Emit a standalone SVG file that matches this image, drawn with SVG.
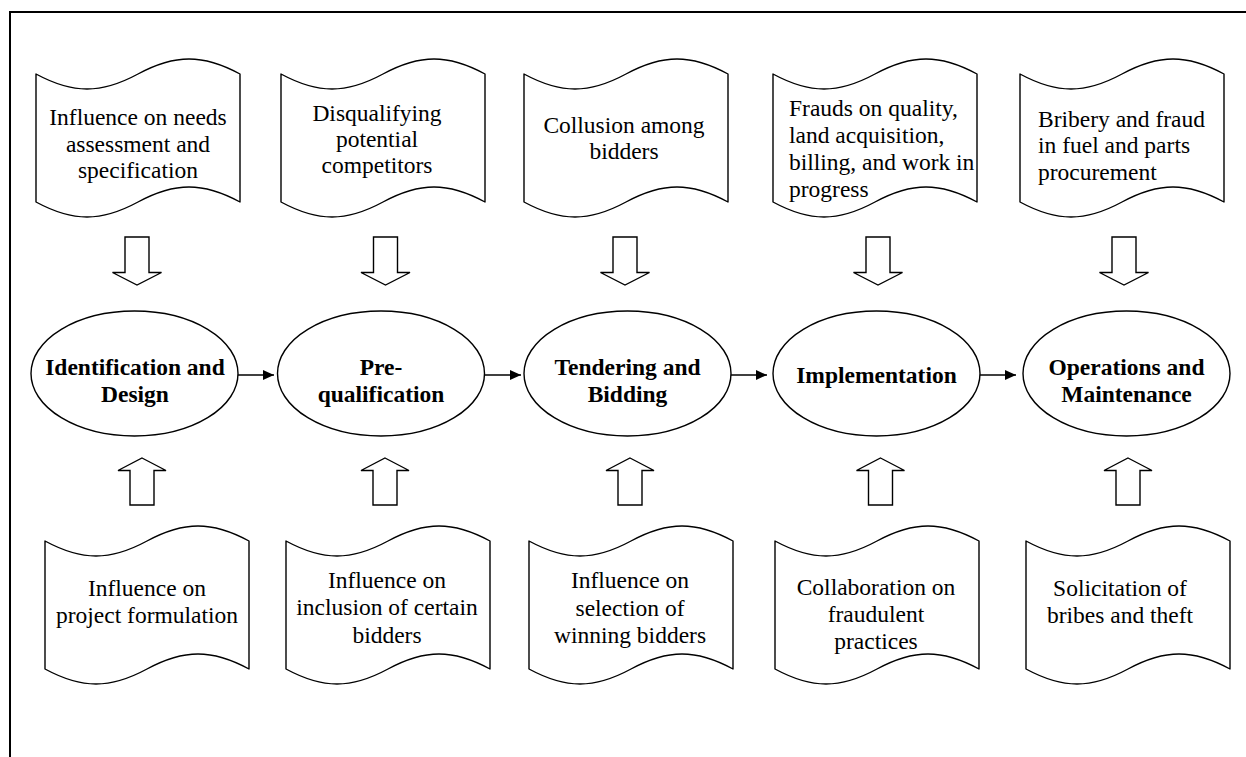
<svg xmlns="http://www.w3.org/2000/svg" xmlns:xlink="http://www.w3.org/1999/xlink" width="1246" height="757" viewBox="0 0 1246 757">
  <style>
    .frame { fill: none; stroke: #000; stroke-width: 2; }
    .scroll { fill: #fff; stroke: #000; stroke-width: 1.4; stroke-linejoin: round; }
    .stage { fill: #fff; stroke: #000; stroke-width: 1.4; }
    .block { fill: #fff; stroke: #000; stroke-width: 1.4; stroke-linejoin: miter; }
    .flow { fill: none; stroke: #000; stroke-width: 1.6; }
    .t { font-family: "Liberation Serif", "Times New Roman", serif; font-size: 23.5px; fill: #000; }
    .c { text-anchor: middle; }
    .b { font-weight: bold; text-anchor: middle; }
  </style>
  <defs>
    <!-- wavy banner, 204 wide, 128 tall, waves of amplitude 15 -->
    <path id="banner" d="M0,0 C37,20 65,20 102,0 C139,-20 167,-20 204,0 L204,128 C167,108 139,108 102,128 C65,148 37,148 0,128 Z"/>
    <!-- hollow block arrows, centred on x = 0 -->
    <polygon id="down" points="-12,0 12,0 12,35.5 24.5,35.5 0,48 -24.5,35.5 -12,35.5"/>
    <polygon id="up" points="0,0 24,12.5 12,12.5 12,47 -12,47 -12,12.5 -24,12.5"/>
    <marker id="head" markerWidth="11" markerHeight="10" refX="11" refY="5" orient="auto" markerUnits="userSpaceOnUse">
      <path d="M0,0 L11,5 L0,10 Z" fill="#000"/>
    </marker>
  </defs>

  <rect class="frame" x="10" y="12" width="1300" height="800"/>

  <!-- upper banners: risks feeding each stage -->
  <g id="risk-top-1">
    <use href="#banner" class="scroll" transform="translate(36,74)"/>
    <text class="t c" x="138" y="125">Influence on needs</text>
    <text class="t c" x="138" y="152">assessment and</text>
    <text class="t c" x="138" y="178">specification</text>
  </g>
  <g id="risk-top-2">
    <use href="#banner" class="scroll" transform="translate(281,74)"/>
    <text class="t c" x="377" y="121">Disqualifying</text>
    <text class="t c" x="377" y="147">potential</text>
    <text class="t c" x="377" y="173">competitors</text>
  </g>
  <g id="risk-top-3">
    <use href="#banner" class="scroll" transform="translate(524,74)"/>
    <text class="t c" x="624" y="133">Collusion among</text>
    <text class="t c" x="624" y="159">bidders</text>
  </g>
  <g id="risk-top-4">
    <use href="#banner" class="scroll" transform="translate(773,74)"/>
    <text class="t" x="789" y="116">Frauds on quality,</text>
    <text class="t" x="789" y="143">land acquisition,</text>
    <text class="t" x="789" y="170">billing, and work in</text>
    <text class="t" x="789" y="197">progress</text>
  </g>
  <g id="risk-top-5">
    <use href="#banner" class="scroll" transform="translate(1020,74)"/>
    <text class="t" x="1038" y="127">Bribery and fraud</text>
    <text class="t" x="1038" y="153">in fuel and parts</text>
    <text class="t" x="1038" y="180">procurement</text>
  </g>

  <!-- project stages -->
  <g id="stage-1">
    <ellipse class="stage" cx="134.5" cy="373.5" rx="103.5" ry="62.5"/>
    <text class="t b" x="135" y="375">Identification and</text>
    <text class="t b" x="135" y="402">Design</text>
  </g>
  <g id="stage-2">
    <ellipse class="stage" cx="381" cy="373.5" rx="103.5" ry="62.5"/>
    <text class="t b" x="381" y="375">Pre-</text>
    <text class="t b" x="381" y="402">qualification</text>
  </g>
  <g id="stage-3">
    <ellipse class="stage" cx="627.5" cy="373.5" rx="103.5" ry="62.5"/>
    <text class="t b" x="627.5" y="375">Tendering and</text>
    <text class="t b" x="627.5" y="402">Bidding</text>
  </g>
  <g id="stage-4">
    <ellipse class="stage" cx="876.5" cy="373.5" rx="103.5" ry="62.5"/>
    <text class="t b" x="876.5" y="383">Implementation</text>
  </g>
  <g id="stage-5">
    <ellipse class="stage" cx="1126.5" cy="373.5" rx="103.5" ry="62.5"/>
    <text class="t b" x="1126.5" y="375">Operations and</text>
    <text class="t b" x="1126.5" y="402">Maintenance</text>
  </g>

  <!-- lower banners: actors' influence on each stage -->
  <g id="risk-bottom-1">
    <use href="#banner" class="scroll" transform="translate(45,541)"/>
    <text class="t c" x="147" y="596">Influence on</text>
    <text class="t c" x="147" y="623">project formulation</text>
  </g>
  <g id="risk-bottom-2">
    <use href="#banner" class="scroll" transform="translate(286,541)"/>
    <text class="t c" x="387" y="588">Influence on</text>
    <text class="t c" x="387" y="615">inclusion of certain</text>
    <text class="t c" x="387" y="643">bidders</text>
  </g>
  <g id="risk-bottom-3">
    <use href="#banner" class="scroll" transform="translate(529,541)"/>
    <text class="t c" x="630" y="588">Influence on</text>
    <text class="t c" x="630" y="616">selection of</text>
    <text class="t c" x="630" y="643">winning bidders</text>
  </g>
  <g id="risk-bottom-4">
    <use href="#banner" class="scroll" transform="translate(775,541)"/>
    <text class="t c" x="876" y="595">Collaboration on</text>
    <text class="t c" x="876" y="622">fraudulent</text>
    <text class="t c" x="876" y="649">practices</text>
  </g>
  <g id="risk-bottom-5">
    <use href="#banner" class="scroll" transform="translate(1026,541)"/>
    <text class="t c" x="1120" y="596">Solicitation of</text>
    <text class="t c" x="1120" y="623">bribes and theft</text>
  </g>

  <!-- connectors -->
  <g id="connectors">
    <use href="#down" class="block" transform="translate(137,237)"/>
    <use href="#down" class="block" transform="translate(385.5,237)"/>
    <use href="#down" class="block" transform="translate(625,237)"/>
    <use href="#down" class="block" transform="translate(878,237)"/>
    <use href="#down" class="block" transform="translate(1124,237)"/>

    <use href="#up" class="block" transform="translate(142,458)"/>
    <use href="#up" class="block" transform="translate(385,458)"/>
    <use href="#up" class="block" transform="translate(630,458)"/>
    <use href="#up" class="block" transform="translate(880.5,458)"/>
    <use href="#up" class="block" transform="translate(1128,458)"/>

    <line class="flow" x1="238" y1="375" x2="274" y2="375" marker-end="url(#head)"/>
    <line class="flow" x1="484.5" y1="375" x2="521" y2="375" marker-end="url(#head)"/>
    <line class="flow" x1="731" y1="375" x2="767" y2="375" marker-end="url(#head)"/>
    <line class="flow" x1="980" y1="375" x2="1016" y2="375" marker-end="url(#head)"/>
  </g>
</svg>
